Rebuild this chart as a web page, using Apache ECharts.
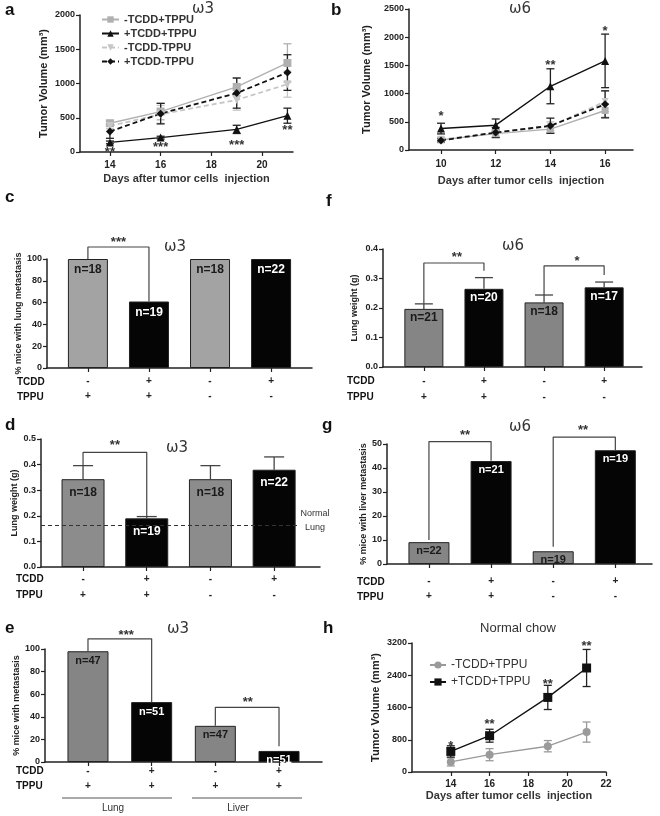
<!DOCTYPE html>
<html><head><meta charset="utf-8">
<script src="https://cdn.jsdelivr.net/npm/echarts@6/dist/echarts.min.js"></script>
<style>html,body{margin:0;padding:0;background:#fff}#c{width:660px;height:816px}</style>
</head><body><div id="c"></div>
<script>
// ---------- DATA ----------
// Panel a (omega-3 tumor volume)
const daysA = [14, 16, 19, 21];
const aMinusTcddPlusTppu = [420, 590, 950, 1300];
const aMinusTcddPlusTppuErr = [40, 120, 130, 280];
const aPlusTcddPlusTppu = [140, 210, 330, 530];
const aPlusTcddPlusTppuErr = [20, 20, 60, 110];
const aMinusTcddMinusTppu = [380, 550, 760, 990];
const aMinusTcddMinusTppuErr = [40, 130, 150, 190];
const aPlusTcddMinusTppu = [300, 560, 860, 1160];
const aPlusTcddMinusTppuErr = [100, 150, 220, 260];
const aStars = ['**', '***', '***', '**'];
const aStarY = [40, 110, 140, 360];
// Panel b (omega-6 tumor volume)
const daysB = [10, 12, 14, 16];
const bMinusTcddPlusTppu = [180, 290, 370, 700];
const bMinusTcddPlusTppuErr = [30, 60, 60, 120];
const bPlusTcddPlusTppu = [380, 440, 1130, 1580];
const bPlusTcddPlusTppuErr = [95, 110, 310, 475];
const bMinusTcddMinusTppu = [190, 300, 420, 860];
const bMinusTcddMinusTppuErr = [30, 60, 80, 180];
const bPlusTcddMinusTppu = [170, 310, 430, 810];
const bPlusTcddMinusTppuErr = [30, 90, 135, 240];
const bStarX = [10, 14, 16];
const bStars = ['*', '**', '*'];
const bStarY = [640, 1560, 2160];
// Bar panels
const tcddSigns = ['-', '+', '-', '+'];
const tppuSigns = ['+', '+', '-', '-'];
const tppuSignsE = ['+', '+', '+', '+'];
const barColorsIdx = [0, 1, 0, 1]; // 0 grey, 1 black
// c: % mice with lung metastasis (omega-3)
const cValues = [100, 61, 100, 100];
const cN = ['n=18', 'n=19', 'n=18', 'n=22'];
// d: lung weight (omega-3)
const dValues = [0.343, 0.19, 0.343, 0.38];
const dErr = [0.053, 0.007, 0.053, 0.05];
const dN = ['n=18', 'n=19', 'n=18', 'n=22'];
const normalLung = 0.165;
// e: % mice with metastasis (omega-3)
const eValues = [98, 53, 32, 9.8];
const eN = ['n=47', 'n=51', 'n=47', 'n=51'];
// f: lung weight (omega-6)
const fValues = [0.197, 0.265, 0.219, 0.27];
const fErr = [0.017, 0.038, 0.025, 0.018];
const fN = ['n=21', 'n=20', 'n=18', 'n=17'];
// g: % mice with liver metastasis (omega-6)
const gValues = [9.1, 42.9, 5.3, 47.4];
const gN = ['n=22', 'n=21', 'n=19', 'n=19'];
// h: normal chow tumor volume
const daysH = [14, 16, 19, 21];
const hMinus = [250, 430, 640, 990];
const hMinusErr = [100, 150, 140, 250];
const hPlus = [510, 900, 1850, 2580];
const hPlusErr = [140, 160, 300, 460];
const hStars = ['*', '**', '**', '**'];
const hStarY = [700, 1250, 2250, 3180];

// ---------- HELPERS ----------
const FF = 'Liberation Sans, Arial, sans-serif';
const AX = '#222';
const GREY_LINE = '#b0b0b0';
const GREY_DASH = '#c6c6c6';
const plain = v => String(v);

function xValAxis(gi, min, max, ticks, fmt, margin, lh, name, nameGap) {
  return {
    type: 'value', gridIndex: gi, min, max, splitLine: {show: false},
    axisLine: {onZero: false, lineStyle: {color: AX, width: 1.5}},
    axisTick: {customValues: ticks, length: 4, lineStyle: {color: AX, width: 1.2}},
    axisLabel: {customValues: ticks, formatter: fmt, margin, lineHeight: lh,
      color: AX, fontWeight: 'bold', fontSize: 10, fontFamily: FF},
    name: name || '', nameLocation: 'middle', nameGap: nameGap || 20,
    nameTextStyle: {color: '#333', fontWeight: 'bold', fontSize: 11, fontFamily: FF}
  };
}
function yValAxis(gi, max, interval, name, nameGap, nameSize, fmt) {
  return {
    type: 'value', gridIndex: gi, min: 0, max, interval, splitLine: {show: false},
    axisLine: {onZero: false, lineStyle: {color: AX, width: 1.5}},
    axisTick: {length: 4, lineStyle: {color: AX, width: 1.2}},
    axisLabel: {color: AX, fontWeight: 'bold', fontSize: 9, fontFamily: FF, margin: 5, formatter: fmt || plain},
    name, nameLocation: 'middle', nameGap, nameRotate: 90,
    nameTextStyle: {color: '#222', fontWeight: 'bold', fontSize: nameSize || 10, fontFamily: FF}
  };
}
function lineSeries(name, gi, xs, ys, color, symbol, dashed, size, rot) {
  return {
    type: 'line', name, xAxisIndex: gi, yAxisIndex: gi,
    data: xs.map((x, i) => [x, ys[i]]), symbol, symbolSize: size || 8, symbolRotate: rot || 0,
    itemStyle: {color}, lineStyle: {color, width: dashed ? 1.8 : 1.4, type: dashed ? [5, 3] : 'solid'},
    z: 3, animation: false
  };
}
function errSeries(gi, xs, ys, es, color, cap, upOnly) {
  return {
    type: 'custom', xAxisIndex: gi, yAxisIndex: gi, z: 2, animation: false, silent: true,
    encode: {x: 0, y: 1},
    data: xs.map((x, i) => [x, ys[i], es[i]]),
    renderItem: (params, api) => {
      const x = api.value(0), y = api.value(1), e = api.value(2);
      const top = api.coord([x, y + e]);
      const bot = api.coord([x, upOnly ? y : y - e]);
      const st = {stroke: color, lineWidth: 1.3};
      const ch = [
        {type: 'line', shape: {x1: top[0], y1: top[1], x2: bot[0], y2: bot[1]}, style: st},
        {type: 'line', shape: {x1: top[0] - cap, y1: top[1], x2: top[0] + cap, y2: top[1]}, style: st}
      ];
      if (!upOnly) ch.push({type: 'line', shape: {x1: bot[0] - cap, y1: bot[1], x2: bot[0] + cap, y2: bot[1]}, style: st});
      return {type: 'group', children: ch};
    }
  };
}
function starSeries(gi, xs, ys, texts, size) {
  return {
    type: 'custom', xAxisIndex: gi, yAxisIndex: gi, z: 5, animation: false, silent: true, clip: false,
    encode: {x: 0, y: 1},
    data: xs.map((x, i) => [x, ys[i]]),
    renderItem: (params, api) => {
      const p = api.coord([api.value(0), api.value(1)]);
      return {type: 'text', x: p[0], y: p[1] + 3,
        style: {text: texts[params.dataIndex], font: 'bold ' + (size || 13) + 'px ' + FF,
          fill: '#333', align: 'center', verticalAlign: 'middle'}};
    }
  };
}
function bracketSeries(gi, pts) {
  return {
    type: 'line', xAxisIndex: gi, yAxisIndex: gi, data: pts, symbol: 'none', clip: false,
    lineStyle: {color: '#444', width: 1.2}, z: 4, animation: false, silent: true
  };
}
function barSeries(gi, values, labels, greyColor, width, dist, fontSize) {
  const cols = [greyColor, '#050505'];
  return {
    type: 'bar', xAxisIndex: gi, yAxisIndex: gi, barWidth: width, animation: false,
    data: values.map((v, i) => ({
      value: [i, v],
      itemStyle: {color: cols[barColorsIdx[i]], borderColor: '#222', borderWidth: 1},
      label: {color: barColorsIdx[i] ? '#fff' : '#1a1a1a'}
    })),
    label: {show: true, position: 'insideTop', distance: dist,
      formatter: p => labels[p.dataIndex], fontWeight: 'bold', fontSize: fontSize || 12, fontFamily: FF},
    z: 2
  };
}
const signFmt = (tc, tp) => v => { const i = Math.round(v); return tc[i] + '\n' + tp[i]; };
const idx4 = [0, 1, 2, 3];

// ---------- GRIDS (a,b,c,d,e,f,g,h) ----------
const grids = [
  {left: 80, top: 15, width: 213, height: 137},
  {left: 409, top: 9, width: 224, height: 141},
  {left: 47, top: 259, width: 265, height: 109},
  {left: 41, top: 439, width: 279, height: 128},
  {left: 45, top: 649, width: 277, height: 113},
  {left: 383, top: 249, width: 259, height: 118},
  {left: 387, top: 444, width: 265, height: 120},
  {left: 412, top: 643, width: 194, height: 129}
].map(g => Object.assign(g, {outerBoundsMode: 'none', containLabel: false}));

const xAxes = [
  xValAxis(0, 12.82, 21.22, [14, 16, 18, 20], plain, 7, 12, 'Days after tumor cells  injection', 21),
  xValAxis(1, 8.83, 17.02, [10, 12, 14, 16], plain, 8, 12, 'Days after tumor cells  injection', 25),
  xValAxis(2, -0.67, 3.67, idx4, signFmt(tcddSigns, tppuSigns), 6, 15),
  xValAxis(3, -0.66, 3.72, idx4, signFmt(tcddSigns, tppuSigns), 4, 16),
  xValAxis(4, -0.675, 3.675, idx4, signFmt(tcddSigns, tppuSignsE), 2, 15),
  xValAxis(5, -0.68, 3.63, idx4, signFmt(tcddSigns, tppuSigns), 6, 16),
  xValAxis(6, -0.675, 3.59, idx4, signFmt(tcddSigns, tppuSigns), 10, 15),
  xValAxis(7, 12, 22, [14, 16, 18, 20, 22], plain, 6, 12, 'Days after tumor cells  injection', 17)
];
const yAxes = [
  yValAxis(0, 2000, 500, 'Tumor Volume (mm³)', 31, 11),
  yValAxis(1, 2500, 500, 'Tumor Volume (mm³)', 37, 11),
  yValAxis(2, 100, 20, '% mice with lung metastasis', 24, 9),
  yValAxis(3, 0.5, 0.1, 'Lung weight (g)', 22, 9, v => v.toFixed(1)),
  yValAxis(4, 100, 20, '% mice with metastasis', 24, 9),
  yValAxis(5, 0.4, 0.1, 'Lung weight (g)', 24, 9, v => v.toFixed(1)),
  yValAxis(6, 50, 10, '% mice with liver metastasis', 16, 9),
  yValAxis(7, 3200, 800, 'Tumor Volume (mm³)', 31, 11)
];

const nA = ['-TCDD+TPPU|a', '+TCDD+TPPU|a', '-TCDD-TPPU|a', '+TCDD-TPPU|a'];
const series = [
  // a
  errSeries(0, daysA, aMinusTcddPlusTppu, aMinusTcddPlusTppuErr, GREY_LINE, 4),
  errSeries(0, daysA, aMinusTcddMinusTppu, aMinusTcddMinusTppuErr, GREY_DASH, 4),
  errSeries(0, daysA, aPlusTcddMinusTppu, aPlusTcddMinusTppuErr, '#222', 4),
  errSeries(0, daysA, aPlusTcddPlusTppu, aPlusTcddPlusTppuErr, '#222', 4),
  lineSeries(nA[0], 0, daysA, aMinusTcddPlusTppu, GREY_LINE, 'rect', false, 8),
  lineSeries(nA[1], 0, daysA, aPlusTcddPlusTppu, '#111', 'triangle', false, 8),
  lineSeries(nA[2], 0, daysA, aMinusTcddMinusTppu, GREY_DASH, 'triangle', true, 8, 180),
  lineSeries(nA[3], 0, daysA, aPlusTcddMinusTppu, '#111', 'diamond', true, 8),
  starSeries(0, daysA, aStarY, aStars),
  // b
  errSeries(1, daysB, bMinusTcddPlusTppu, bMinusTcddPlusTppuErr, GREY_LINE, 4),
  errSeries(1, daysB, bMinusTcddMinusTppu, bMinusTcddMinusTppuErr, GREY_DASH, 4),
  errSeries(1, daysB, bPlusTcddMinusTppu, bPlusTcddMinusTppuErr, '#222', 4),
  errSeries(1, daysB, bPlusTcddPlusTppu, bPlusTcddPlusTppuErr, '#222', 4),
  lineSeries('-TCDD+TPPU|b', 1, daysB, bMinusTcddPlusTppu, GREY_LINE, 'rect', false, 7),
  lineSeries('-TCDD-TPPU|b', 1, daysB, bMinusTcddMinusTppu, GREY_DASH, 'triangle', true, 7, 180),
  lineSeries('+TCDD-TPPU|b', 1, daysB, bPlusTcddMinusTppu, '#111', 'diamond', true, 8),
  lineSeries('+TCDD+TPPU|b', 1, daysB, bPlusTcddPlusTppu, '#111', 'triangle', false, 8),
  starSeries(1, bStarX, bStarY, bStars),
  // c
  barSeries(2, cValues, cN, '#a3a3a3', 40, 5, 12),
  bracketSeries(2, [[0, 100], [0, 111], [1, 111], [1, 61]]),
  starSeries(2, [0.5], [118], ['***']),
  // d
  barSeries(3, dValues, dN, '#8c8c8c', 43, 7, 12),
  errSeries(3, idx4, dValues, dErr, '#444', 10, true),
  bracketSeries(3, [[0, 0.398], [0, 0.448], [1, 0.448], [1, 0.197]]),
  starSeries(3, [0.5], [0.485], ['**']),
  // e
  barSeries(4, eValues, eN, '#858585', 41, 4, 11),
  bracketSeries(4, [[0, 98], [0, 109], [1, 109], [1, 53]]),
  bracketSeries(4, [[2, 32], [2, 48.4], [3, 48.4], [3, 14]]),
  starSeries(4, [0.6, 2.51], [115, 55], ['***', '**']),
  // f
  barSeries(5, fValues, fN, '#858585', 39, 3, 12),
  errSeries(5, idx4, fValues, fErr, '#444', 9, true),
  bracketSeries(5, [[0, 0.214], [0, 0.3525], [1, 0.3525], [1, 0.326]]),
  bracketSeries(5, [[2, 0.244], [2, 0.343], [3, 0.343], [3, 0.312]]),
  starSeries(5, [0.55, 2.55], [0.38, 0.367], ['**', '*']),
  // g
  barSeries(6, gValues, gN, '#858585', 41, 3, 11),
  bracketSeries(6, [[0, 10], [0, 51], [1, 51], [1, 43]]),
  bracketSeries(6, [[2, 7.2], [2, 52.9], [3, 52.9], [3, 47.4]]),
  starSeries(6, [0.58, 2.48], [54.8, 56.9], ['**', '**']),
  // h
  errSeries(7, daysH, hMinus, hMinusErr, '#9a9a9a', 4),
  errSeries(7, daysH, hPlus, hPlusErr, '#222', 4),
  lineSeries('-TCDD+TPPU|h', 7, daysH, hMinus, '#9a9a9a', 'circle', false, 8),
  lineSeries('+TCDD+TPPU|h', 7, daysH, hPlus, '#111', 'rect', false, 9),
  starSeries(7, daysH, hStarY, hStars)
];
// Normal lung dashed reference in d
series[21].markLine = {
  silent: true, symbol: 'none', animation: false,
  lineStyle: {color: '#333', type: [4, 3], width: 1.2},
  label: {show: false},
  data: [[{coord: [-0.66, normalLung]}, {coord: [3.37, normalLung]}]]
};

function txt(x, y, s, font, align, color) {
  return {type: 'text', x, y, silent: true,
    style: {text: s, font, fill: color || '#111', align: align || 'left', verticalAlign: 'middle'}};
}
const LETTER = 'bold 17px ' + FF;
const OMEGA = '15px DejaVu Sans, sans-serif';
const ROW = 'bold 10px ' + FF;
const graphics = [
  txt(5, 10, 'a', LETTER), txt(331, 10, 'b', LETTER), txt(5, 197, 'c', LETTER), txt(326, 201, 'f', LETTER),
  txt(5, 425, 'd', LETTER), txt(322, 425, 'g', LETTER), txt(5, 628, 'e', LETTER), txt(323, 628, 'h', LETTER),
  txt(203, 9, 'ω3', OMEGA, 'center', '#333'), txt(520, 9, 'ω6', OMEGA, 'center', '#333'),
  txt(175, 247, 'ω3', OMEGA, 'center', '#333'), txt(513, 246, 'ω6', OMEGA, 'center', '#333'),
  txt(177, 448, 'ω3', OMEGA, 'center', '#333'), txt(520, 427, 'ω6', OMEGA, 'center', '#333'),
  txt(178, 629, 'ω3', OMEGA, 'center', '#333'),
  txt(518, 628, 'Normal chow', '13px ' + FF, 'center', '#333'),
  txt(315, 514, 'Normal', '9px ' + FF, 'center', '#333'),
  txt(315, 528, 'Lung', '9px ' + FF, 'center', '#333'),
  txt(17, 382, 'TCDD', ROW), txt(17, 397, 'TPPU', ROW),
  txt(347, 381, 'TCDD', ROW), txt(347, 397, 'TPPU', ROW),
  txt(16, 579, 'TCDD', ROW), txt(16, 595, 'TPPU', ROW),
  txt(357, 582, 'TCDD', ROW), txt(357, 597, 'TPPU', ROW),
  txt(16, 771, 'TCDD', ROW), txt(16, 786, 'TPPU', ROW),
  {type: 'line', silent: true, shape: {x1: 62, y1: 798, x2: 172, y2: 798}, style: {stroke: '#555', lineWidth: 1}},
  {type: 'line', silent: true, shape: {x1: 192, y1: 798, x2: 302, y2: 798}, style: {stroke: '#555', lineWidth: 1}},
  txt(113, 808, 'Lung', '10px ' + FF, 'center', '#333'),
  txt(238, 808, 'Liver', '10px ' + FF, 'center', '#333')
];

const option = {
  backgroundColor: '#fff',
  animation: false,
  grid: grids,
  xAxis: xAxes,
  yAxis: yAxes,
  legend: [
    {data: nA, left: 96, top: 9, orient: 'vertical', itemGap: 3, itemWidth: 17, itemHeight: 8,
      selectedMode: false, formatter: n => n.split('|')[0],
      textStyle: {fontWeight: 'bold', fontSize: 11, color: '#333', fontFamily: FF}},
    {data: ['-TCDD+TPPU|h', '+TCDD+TPPU|h'], left: 424, top: 654, orient: 'vertical', itemGap: 5,
      itemWidth: 16, itemHeight: 9, selectedMode: false, formatter: n => n.split('|')[0],
      textStyle: {fontSize: 12, color: '#333', fontFamily: FF}}
  ],
  graphic: graphics,
  series
};
const chart = echarts.init(document.getElementById('c'), null, {renderer: 'canvas', width: 660, height: 816});
chart.setOption(option);
</script>
</body></html>
